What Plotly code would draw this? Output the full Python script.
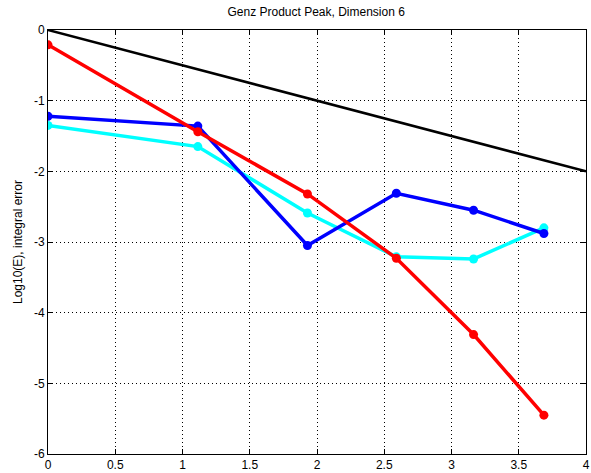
import plotly.graph_objects as go

x_levels = [0.0, 1.114, 1.929, 2.590, 3.164, 3.687]
red_err = [-0.21, -1.44, -2.32, -3.23, -4.31, -5.45]
blue_err = [-1.22, -1.36, -3.05, -2.31, -2.55, -2.88]
cyan_err = [-1.35, -1.65, -2.59, -3.21, -3.24, -2.80]
ref_x = [0, 4]
ref_y = [0, -2]

title = "Genz Product Peak, Dimension 6"
ylabel = "Log10(E), integral error"

fig = go.Figure()
fig.add_trace(go.Scatter(x=ref_x, y=ref_y, mode="lines",
                         line=dict(color="black", width=2.5), showlegend=False))
fig.add_trace(go.Scatter(x=x_levels, y=cyan_err, mode="lines+markers",
                         line=dict(color="#00ffff", width=3.5),
                         marker=dict(size=9, color="#00ffff"), showlegend=False))
fig.add_trace(go.Scatter(x=x_levels, y=blue_err, mode="lines+markers",
                         line=dict(color="#0000ff", width=3.5),
                         marker=dict(size=9, color="#0000ff"), showlegend=False))
fig.add_trace(go.Scatter(x=x_levels, y=red_err, mode="lines+markers",
                         line=dict(color="#ff0000", width=3.5),
                         marker=dict(size=9, color="#ff0000"), showlegend=False))

font = dict(family="Liberation Sans, Arial", size=12, color="black")
axis_common = dict(showline=True, linecolor="black", linewidth=1, mirror="ticks",
                   ticks="inside", ticklen=5, tickcolor="black",
                   showgrid=True, gridcolor="black", griddash="1px,3px", gridwidth=1,
                   zeroline=False, tickfont=font, automargin=False)

fig.update_xaxes(range=[0, 4], tickvals=[0, 0.5, 1, 1.5, 2, 2.5, 3, 3.5, 4],
                 ticktext=["0", "0.5", "1", "1.5", "2", "2.5", "3", "3.5", "4"], **axis_common)
fig.update_yaxes(range=[-6, 0], tickvals=[-6, -5, -4, -3, -2, -1, 0],
                 ticktext=["-6", "-5", "-4", "-3", "-2", "-1", "0"],
                 title=dict(text=ylabel, font=font, standoff=8),
                 **axis_common)

fig.update_layout(
    width=591, height=473,
    margin=dict(l=48, r=5, t=30, b=19),
    plot_bgcolor="white", paper_bgcolor="white",
    title=dict(text=title, x=0.535, xanchor="center", y=0.975, yanchor="middle",
               font=font),
)

fig.write_html("out.html")
